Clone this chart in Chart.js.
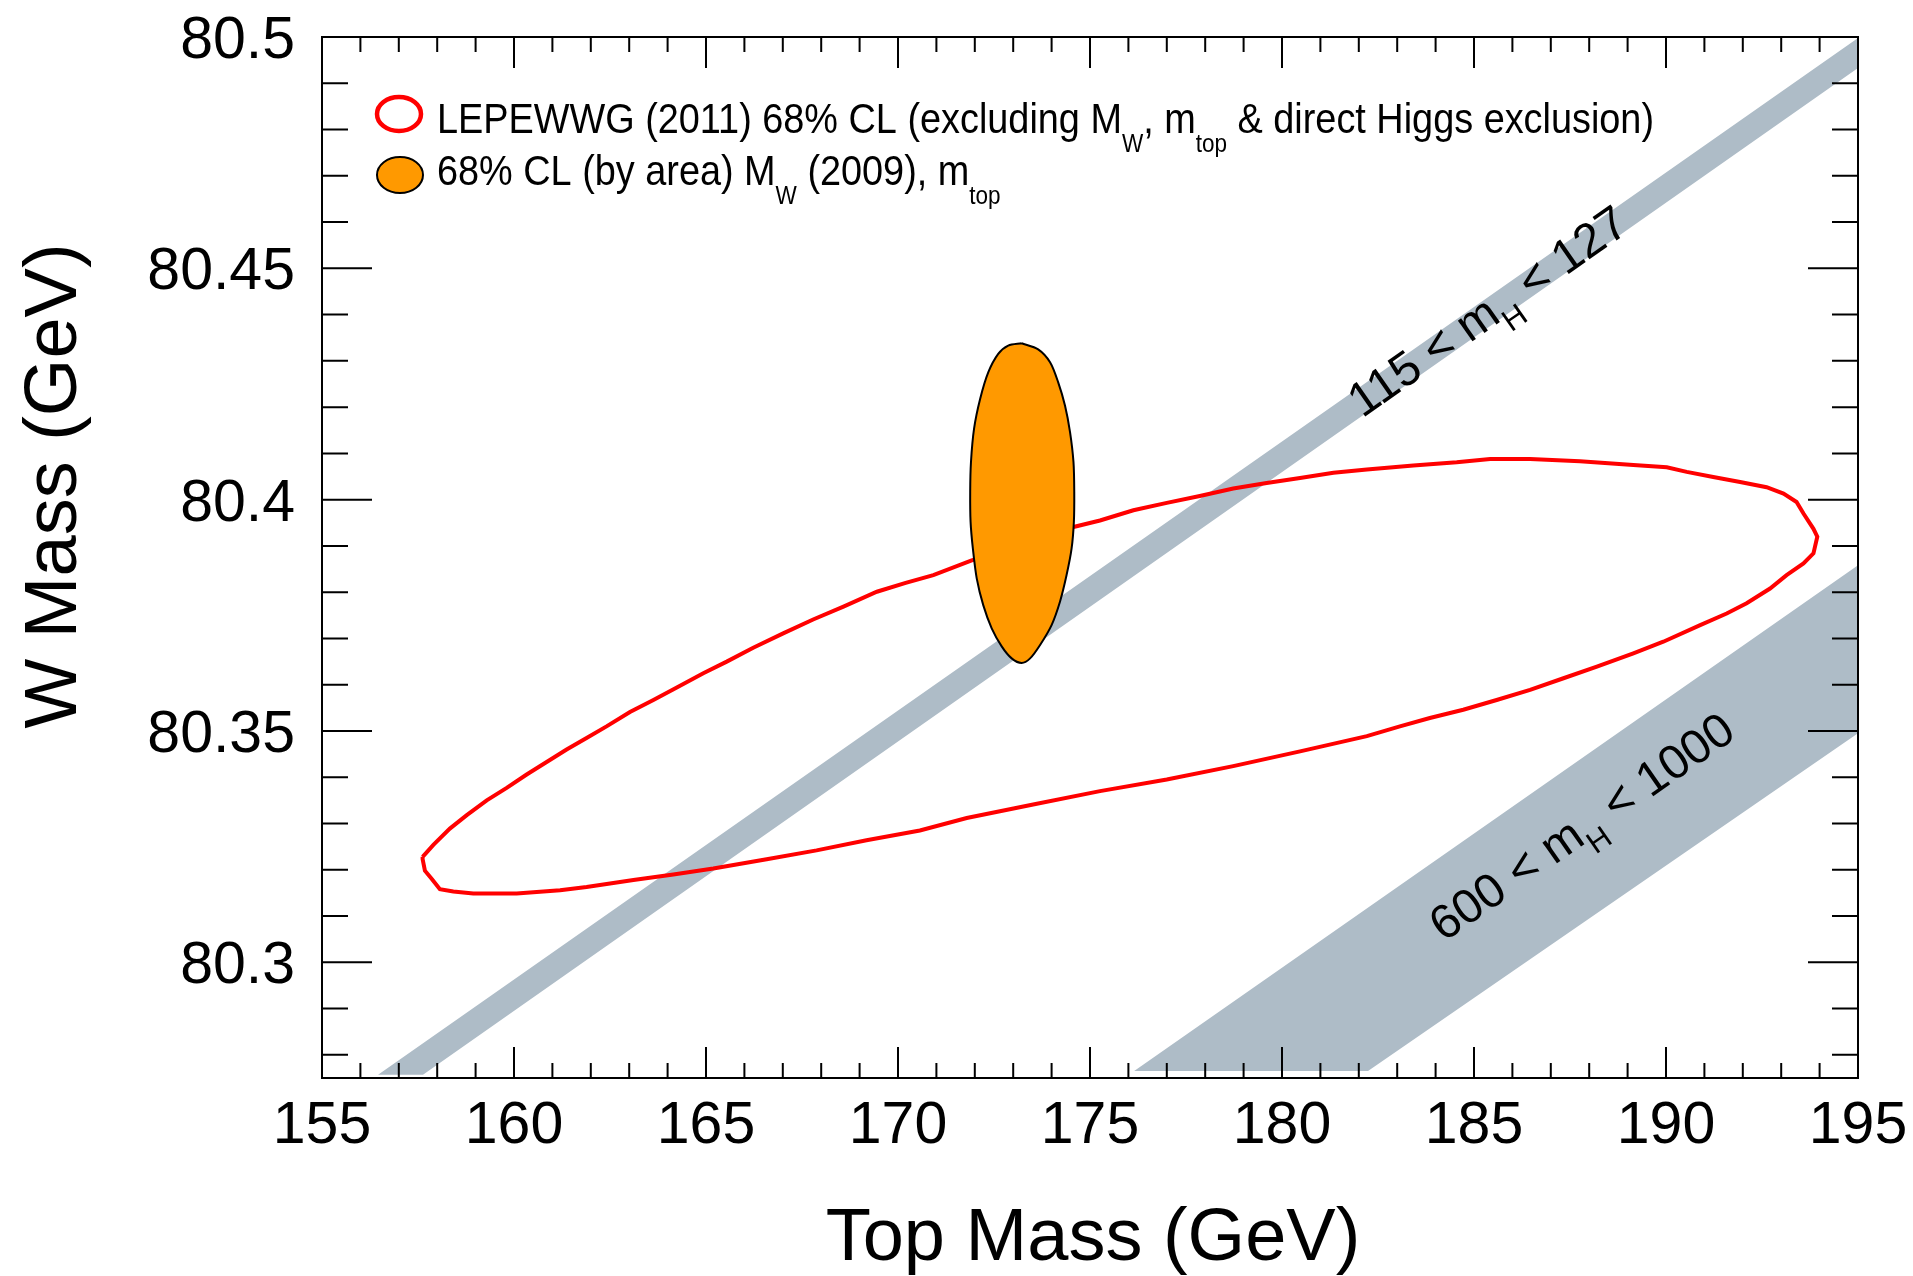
<!DOCTYPE html>
<html>
<head>
<meta charset="utf-8">
<script src="https://cdn.jsdelivr.net/npm/chart.js@4.4.1/dist/chart.umd.min.js"></script>
<style>
  html, body { margin: 0; padding: 0; background: #fff; }
  #wrap { width: 1913px; height: 1276px; }
</style>
</head>
<body>
<div id="wrap"><canvas id="myChart" width="1913" height="1276"></canvas></div>
<script>
// axes
const xRange = [155, 195];
const yRange = [80.275, 80.5];
const xTickLabels = [155, 160, 165, 170, 175, 180, 185, 190, 195];
const yTickLabels = [80.3, 80.35, 80.4, 80.45, 80.5];

// 115 < mH < 127 band, corners where it meets the frame
const lightBandX = [156.46, 195, 195, 157.63, 156.46];
const lightBandY = [80.2757, 80.4998, 80.4933, 80.2757, 80.2757];

// 600 < mH < 1000 band
const heavyBandX = [176.15, 195, 195, 182.24, 176.15];
const heavyBandY = [80.2765, 80.3858, 80.3495, 80.2765, 80.2765];

// LEPEWWG 68% CL contour (upper edge left->right, then lower edge back)
const lepX = [157.62, 157.90, 158.33, 158.77, 159.29, 159.81, 160.33, 160.85, 161.37, 161.89,
  162.41, 163.02, 163.63, 164.24, 164.93, 165.54, 166.23, 167.01, 167.79, 168.58,
  169.45, 170.20, 170.92, 171.92, 174.57, 175.26, 176.13, 177.00, 177.86, 178.73,
  179.60, 180.47, 181.34, 182.21, 183.42, 184.55, 185.42, 186.46, 187.76, 189.15,
  190.02, 190.54, 191.23, 191.93, 192.62, 193.06, 193.40, 193.58, 193.84, 193.94,
  193.84, 193.58, 193.14, 192.71, 192.10, 191.58, 190.89, 189.93, 189.15, 188.20,
  187.33, 186.46, 185.59, 184.72, 183.85, 183.07, 182.21, 180.47, 178.73, 177.00,
  175.26, 173.52, 171.79, 170.57, 169.18, 167.88, 166.58, 165.19, 164.15, 163.11,
  161.89, 161.20, 160.07, 158.94, 158.42, 158.07, 157.86, 157.68, 157.62, 157.62];
const lepY = [80.3228, 80.3254, 80.3289, 80.3318, 80.3350, 80.3377, 80.3406, 80.3433, 80.3460, 80.3485,
  80.3510, 80.3541, 80.3567, 80.3594, 80.3625, 80.3650, 80.3680, 80.3711, 80.3741, 80.3769,
  80.3801, 80.3820, 80.3837, 80.3869, 80.3941, 80.3955, 80.3977, 80.3993, 80.4008, 80.4024,
  80.4036, 80.4047, 80.4058, 80.4065, 80.4074, 80.4081, 80.4088, 80.4088, 80.4083, 80.4075,
  80.4070, 80.4060, 80.4049, 80.4038, 80.4027, 80.4013, 80.3995, 80.3970, 80.3937, 80.3920,
  80.3884, 80.3862, 80.3837, 80.3808, 80.3776, 80.3754, 80.3729, 80.3693, 80.3668, 80.3639,
  80.3614, 80.3589, 80.3567, 80.3546, 80.3528, 80.3510, 80.3489, 80.3456, 80.3424, 80.3395,
  80.3370, 80.3341, 80.3312, 80.3285, 80.3264, 80.3242, 80.3223, 80.3203, 80.3190, 80.3178,
  80.3163, 80.3156, 80.3149, 80.3149, 80.3153, 80.3158, 80.3180, 80.3198, 80.3223, 80.3228];

// 68% CL (by area) MW (2009), mtop
const mwX = [173.22, 173.65, 173.96, 174.17, 174.35, 174.48, 174.57, 174.59, 174.58, 174.52,
  174.39, 174.22, 174.00, 173.70, 173.44, 173.22, 172.96, 172.70, 172.44, 172.22,
  172.05, 171.95, 171.89, 171.88, 171.90, 171.98, 172.14, 172.35, 172.61, 172.87, 173.22];
const mwY = [80.4338, 80.4325, 80.4297, 80.4254, 80.4203, 80.4146, 80.4081, 80.4017, 80.3952, 80.3894,
  80.3837, 80.3780, 80.3729, 80.3686, 80.3657, 80.3647, 80.3657, 80.3683, 80.3722, 80.3772,
  80.3830, 80.3894, 80.3952, 80.4017, 80.4081, 80.4153, 80.4218, 80.4275, 80.4315, 80.4333, 80.4338];

// text
const legendLines = [
  [{t: 'LEPEWWG (2011) 68% CL (excluding M'}, {t: 'W', sub: true}, {t: ', m'}, {t: 'top', sub: true}, {t: ' & direct Higgs exclusion)'}],
  [{t: '68% CL (by area) M'}, {t: 'W', sub: true}, {t: ' (2009), m'}, {t: 'top', sub: true}]
];
const lightBandLabel = [{t: '115 < m'}, {t: 'H', sub: true}, {t: ' < 127'}];
const heavyBandLabel = [{t: '600 < m'}, {t: 'H', sub: true}, {t: ' < 1000'}];
const lightLabelPos = [185.34, 80.4409];
const heavyLabelPos = [187.79, 80.3295];

const toPts = (xs, ys) => xs.map((v, i) => ({x: v, y: ys[i]}));

const BAND = 'rgb(174,188,199)';
const FONT = '"Liberation Sans", Arial, sans-serif';

function richWidth(ctx, parts, mainFont, subFont) {
    let w = 0;
    for (const p of parts) {
        ctx.font = p.sub ? subFont : mainFont;
        w += ctx.measureText(p.t).width;
    }
    return w;
}

function drawRich(ctx, parts, x, y, mainFont, subFont, subDy) {
    let cx = x;
    for (const p of parts) {
        ctx.font = p.sub ? subFont : mainFont;
        ctx.fillText(p.t, cx, p.sub ? y + subDy : y);
        cx += ctx.measureText(p.t).width;
    }
}

// frame, inward ticks, labels, legend
const decorations = {
    id: 'decorations',
    afterDraw(chart) {
        const {ctx, chartArea: a} = chart;
        const xs = chart.scales.x, ys = chart.scales.y;
        ctx.save();
        ctx.strokeStyle = '#000';
        ctx.fillStyle = '#000';
        ctx.lineWidth = 2;

        ctx.beginPath();
        for (let v = xRange[0]; v <= xRange[1]; v++) {
            const px = xs.getPixelForValue(v);
            const len = v % 5 === 0 ? 31 : 15;
            ctx.moveTo(px, a.bottom); ctx.lineTo(px, a.bottom - len);
            ctx.moveTo(px, a.top); ctx.lineTo(px, a.top + len);
        }
        for (let k = 28; k <= 50; k++) {
            const py = ys.getPixelForValue(80 + k / 100);
            const len = k % 5 === 0 ? 50 : 26;
            ctx.moveTo(a.left, py); ctx.lineTo(a.left + len, py);
            ctx.moveTo(a.right, py); ctx.lineTo(a.right - len, py);
        }
        ctx.stroke();
        ctx.strokeRect(a.left, a.top, a.right - a.left, a.bottom - a.top);

        // tick labels
        ctx.font = '59px ' + FONT;
        ctx.textAlign = 'center';
        ctx.textBaseline = 'alphabetic';
        xTickLabels.forEach(v => ctx.fillText(String(v), xs.getPixelForValue(v), a.bottom + 65));
        ctx.textAlign = 'right';
        yTickLabels.forEach(v => ctx.fillText(String(v), a.left - 27, ys.getPixelForValue(v) + 21));

        // axis titles
        ctx.font = '74px ' + FONT;
        ctx.textAlign = 'center';
        ctx.fillText('Top Mass (GeV)', (a.left + a.right) / 2 + 3, 1260);
        ctx.save();
        ctx.translate(76, 486);
        ctx.rotate(-Math.PI / 2);
        ctx.fillText('W Mass (GeV)', 0, 0);
        ctx.restore();

        // band labels, rotated along the band edge
        ctx.textAlign = 'left';
        const bandLabel = (parts, pos, bx, by) => {
            const ang = Math.atan2(ys.getPixelForValue(by[1]) - ys.getPixelForValue(by[0]),
                                   xs.getPixelForValue(bx[1]) - xs.getPixelForValue(bx[0]));
            const mf = '48px ' + FONT, sf = '31px ' + FONT;
            const w = richWidth(ctx, parts, mf, sf);
            ctx.save();
            ctx.translate(xs.getPixelForValue(pos[0]), ys.getPixelForValue(pos[1]));
            ctx.rotate(ang);
            drawRich(ctx, parts, -w / 2, 17, mf, sf, 15);
            ctx.restore();
        };
        bandLabel(lightBandLabel, lightLabelPos, lightBandX, lightBandY);
        bandLabel(heavyBandLabel, heavyLabelPos, heavyBandX, heavyBandY);

        // legend
        ctx.lineWidth = 4.5;
        ctx.strokeStyle = '#ff0000';
        ctx.beginPath();
        ctx.ellipse(399, 114, 22, 17, 0, 0, Math.PI * 2);
        ctx.stroke();
        ctx.fillStyle = '#ff9900';
        ctx.strokeStyle = '#000';
        ctx.lineWidth = 2;
        ctx.beginPath();
        ctx.ellipse(400, 175, 23, 18, 0, 0, Math.PI * 2);
        ctx.fill();
        ctx.stroke();

        ctx.fillStyle = '#000';
        const mf = '42px ' + FONT, sf = '25px ' + FONT;
        const sx = 1217 / richWidth(ctx, legendLines[0], mf, sf);
        [133, 185].forEach((base, i) => {
            ctx.save();
            ctx.translate(437, base);
            ctx.scale(sx, 1);
            drawRich(ctx, legendLines[i], 0, 0, mf, sf, 19);
            ctx.restore();
        });
        ctx.restore();
    }
};

const config = {
    type: 'scatter',
    data: {
        datasets: [
            {
                label: 'MW 2009, mtop',
                data: toPts(mwX, mwY),
                showLine: true,
                tension: 0.3,
                fill: 'shape',
                backgroundColor: '#ff9900',
                borderColor: '#000',
                borderWidth: 2,
                pointRadius: 0,
                order: 1
            }, {
                label: 'LEPEWWG 2011',
                data: toPts(lepX, lepY),
                showLine: true,
                fill: false,
                borderColor: '#ff0000',
                borderWidth: 4,
                pointRadius: 0,
                order: 2
            }, {
                label: '115 < mH < 127',
                data: toPts(lightBandX, lightBandY),
                showLine: true,
                fill: 'shape',
                backgroundColor: BAND,
                borderWidth: 0,
                pointRadius: 0,
                order: 3
            }, {
                label: '600 < mH < 1000',
                data: toPts(heavyBandX, heavyBandY),
                showLine: true,
                fill: 'shape',
                backgroundColor: BAND,
                borderWidth: 0,
                pointRadius: 0,
                order: 4
            }
        ]
    },
    options: {
        responsive: false,
        animation: false,
        devicePixelRatio: 1,
        layout: {padding: {left: 322, top: 37, right: 55, bottom: 198}},
        scales: {
            x: {type: 'linear', min: xRange[0], max: xRange[1], display: false},
            y: {type: 'linear', min: yRange[0], max: yRange[1], display: false}
        },
        plugins: {
            legend: {display: false},
            tooltip: {enabled: false}
        }
    },
    plugins: [decorations]
};

const myChart = new Chart(document.getElementById('myChart'), config);
</script>
</body>
</html>
